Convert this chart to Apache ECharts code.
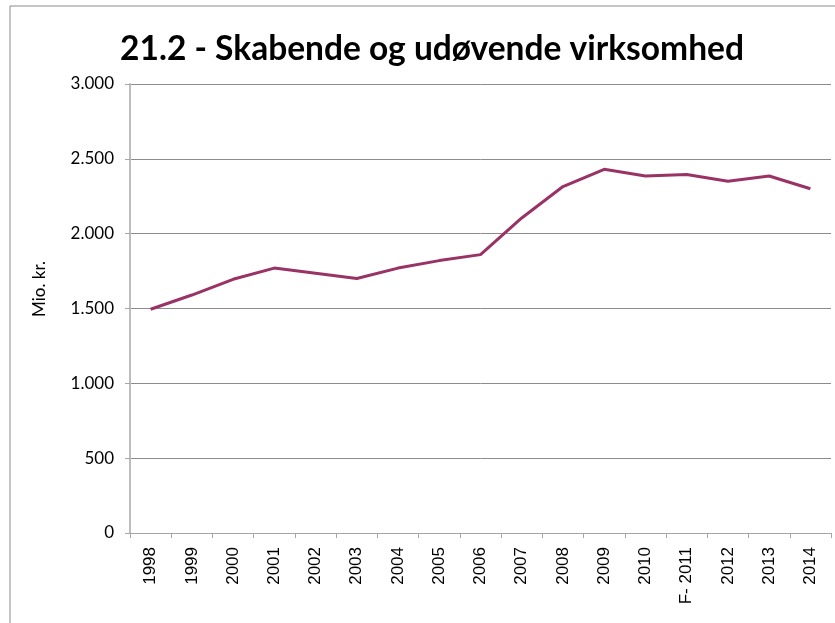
<!DOCTYPE html>
<html><head><meta charset="utf-8">
<script src="https://cdn.jsdelivr.net/npm/echarts@6/dist/echarts.min.js"></script>
<style>html,body{margin:0;padding:0;background:#fff}#c{width:835px;height:623px}</style>
</head><body><div id="c"></div>
<script>
const titleText = "21.2 - Skabende og udøvende virksomhed";
const yAxisName = "Mio. kr.";
const categories = ["1998","1999","2000","2001","2002","2003","2004","2005","2006","2007","2008","2009","2010","F- 2011","2012","2013","2014"];
const values = [1495,1590,1695,1770,1735,1700,1770,1820,1860,2105,2315,2430,2385,2395,2350,2385,2300];
const yMin = 0, yMax = 3000, yStep = 500;

const chart = echarts.init(document.getElementById('c'), null, {renderer:'canvas'});
chart.setOption({
  animation:false,
  backgroundColor:'#fff',
  title:{text:titleText,left:427,top:27,textAlign:'center',
    textStyle:{fontFamily:'Lato',fontWeight:'bold',fontSize:33.5,color:'#000'}},
  graphic:[
    {type:'rect',shape:{x:10,y:6,width:900,height:700},style:{fill:'none',stroke:'#8a8a8a',lineWidth:1},silent:true},
    {type:'text',x:40,y:289,rotation:Math.PI/2,silent:true,
      style:{text:yAxisName,fontFamily:'Lato',fontSize:17,fill:'#000',align:'center',verticalAlign:'middle'}}
  ],
  grid:{left:130,right:4,top:84,bottom:90,containLabel:false},
  xAxis:{type:'category',data:categories,boundaryGap:true,
    axisLine:{lineStyle:{color:'#a6a6a6',width:1}},
    axisTick:{show:true,interval:0,length:5,lineStyle:{color:'#a6a6a6'}},
    axisLabel:{interval:0,rotate:90,margin:14,fontFamily:'Liberation Sans',fontSize:17,color:'#000'}},
  yAxis:{type:'value',min:yMin,max:yMax,interval:yStep,
    axisLine:{show:true,lineStyle:{color:'#bdbdbd',width:2}},
    axisTick:{show:true,length:5,lineStyle:{color:'#a6a6a6'}},
    axisLabel:{margin:16,fontFamily:'Lato',fontSize:17,color:'#000',
      formatter:v=>v>=1000?(Math.floor(v/1000)+'.'+String(v%1000).padStart(3,'0')):String(v)},
    splitLine:{show:true,lineStyle:{color:'#8c8c8c',width:1}}},
  series:[{type:'line',data:values,symbol:'none',lineStyle:{color:'#993366',width:3}}]
});
</script></body></html>
